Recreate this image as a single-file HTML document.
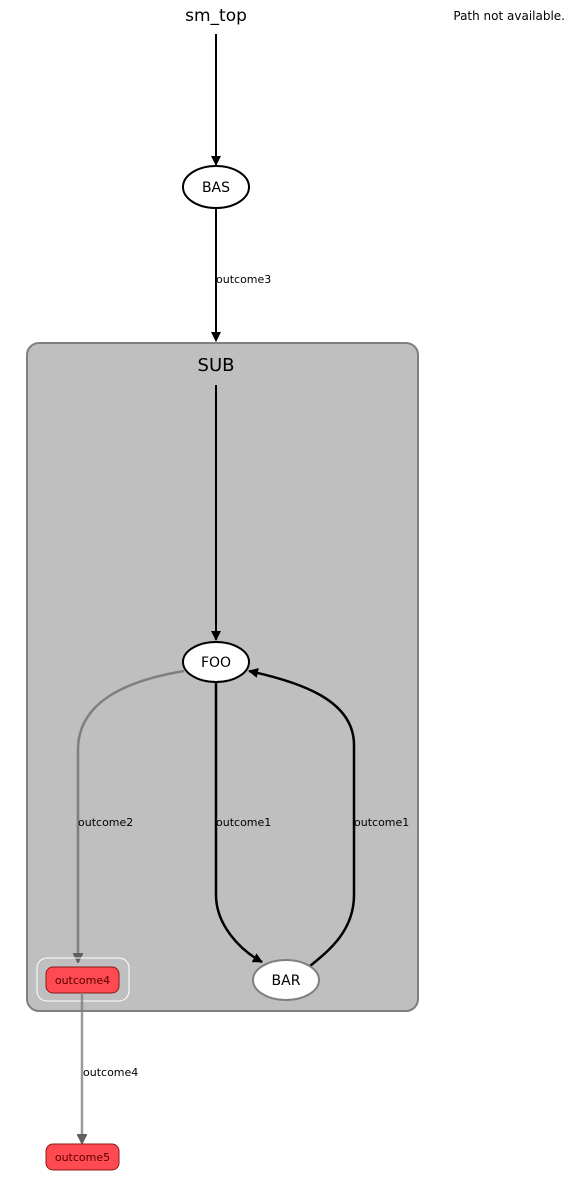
<!DOCTYPE html>
<html><head><style>body{margin:0;background:#fff}svg{display:block}text{font-family:"DejaVu Sans","Liberation Sans",sans-serif}</style></head>
<body>
<svg width="577" height="1181" viewBox="0 0 577 1181" xmlns="http://www.w3.org/2000/svg">
<defs>
<marker id="ab" markerWidth="10" markerHeight="10" refX="9" refY="5" orient="auto" markerUnits="userSpaceOnUse"><path d="M0,0 L10,5 L0,10 z" fill="#000"/></marker>
<marker id="ag" markerWidth="10" markerHeight="10" refX="9" refY="5" orient="auto" markerUnits="userSpaceOnUse"><path d="M0,0 L10,5 L0,10 z" fill="#606060" stroke="#606060"/></marker>
</defs>
<text x="216" y="21" font-size="17" text-anchor="middle">sm_top</text>
<text x="565" y="20" font-size="12" text-anchor="end">Path not available.</text>
<line x1="216" y1="34" x2="216" y2="165" stroke="#000" stroke-width="2" marker-end="url(#ab)"/>
<ellipse cx="216" cy="187" rx="33" ry="21" fill="#fff" stroke="#000" stroke-width="2"/>
<text x="216" y="192" font-size="14" text-anchor="middle">BAS</text>
<line x1="216" y1="208" x2="216" y2="341" stroke="#000" stroke-width="2" marker-end="url(#ab)"/>
<text x="216" y="283" font-size="11">outcome3</text>
<rect x="27" y="343" width="391" height="668" rx="12" fill="#bfbfbf" stroke="#7f7f7f" stroke-width="2"/>
<text x="216" y="371" font-size="18" text-anchor="middle">SUB</text>
<line x1="216" y1="385" x2="216" y2="640" stroke="#000" stroke-width="2" marker-end="url(#ab)"/>
<path d="M216,683 L216,895 C216,925 240,950 262,962" fill="none" stroke="#000" stroke-width="2.5" marker-end="url(#ab)"/>
<path d="M310,966 C330,950 354,930 354,895 L354,745 C354,700 300,682 249,671" fill="none" stroke="#000" stroke-width="2.5" marker-end="url(#ab)"/>
<path d="M184,671 C130,680 78,700 78,750 L78,962" fill="none" stroke="#7f7f7f" stroke-width="2.5" marker-end="url(#ag)"/>
<text x="216" y="826" font-size="11">outcome1</text>
<text x="354" y="826" font-size="11">outcome1</text>
<text x="78" y="826" font-size="11">outcome2</text>
<ellipse cx="216" cy="662" rx="33" ry="20" fill="#fff" stroke="#000" stroke-width="2"/>
<text x="216" y="667" font-size="14" text-anchor="middle">FOO</text>
<ellipse cx="286" cy="980" rx="33" ry="20" fill="#fff" stroke="#808080" stroke-width="2"/>
<text x="286" y="985" font-size="14" text-anchor="middle">BAR</text>
<rect x="37" y="958" width="92" height="43" rx="10" fill="none" stroke="#fff" stroke-width="1"/>
<rect x="46" y="967" width="73" height="26" rx="7" fill="#fe4a50" stroke="#8b1a1a" stroke-width="1"/>
<text x="82.5" y="984" font-size="11" text-anchor="middle" fill="#5a0000">outcome4</text>
<line x1="82" y1="993" x2="82" y2="1143" stroke="#7f7f7f" stroke-width="2.5" stroke-opacity="0.8" marker-end="url(#ag)"/>
<text x="83" y="1076" font-size="11">outcome4</text>
<rect x="46" y="1144" width="73" height="26" rx="7" fill="#fe4a50" stroke="#8b1a1a" stroke-width="1"/>
<text x="82.5" y="1161" font-size="11" text-anchor="middle" fill="#5a0000">outcome5</text>
</svg>
</body></html>
